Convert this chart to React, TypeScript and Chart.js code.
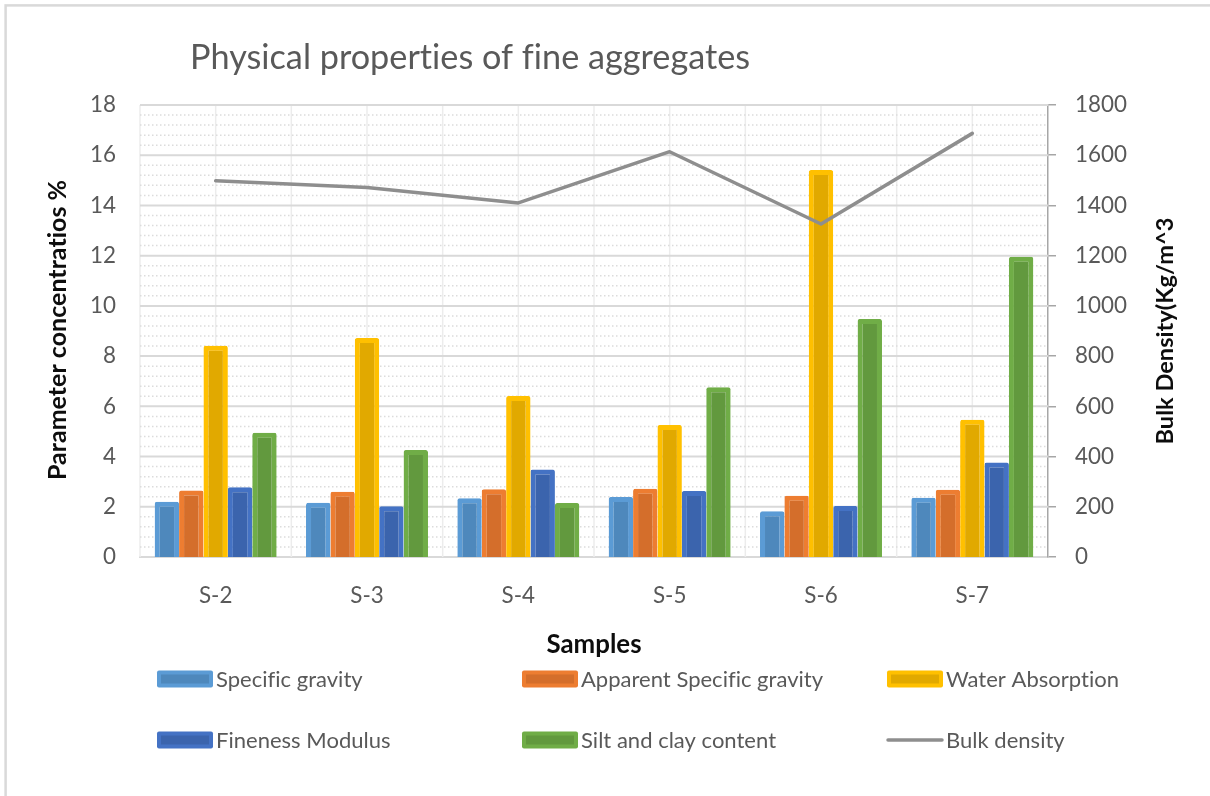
import React, { useEffect, useRef } from "react";
import { Chart, registerables } from "chart.js";

Chart.register(...registerables);

// Samples and measured properties
const samples = ["S-2", "S-3", "S-4", "S-5", "S-6", "S-7"];
const specificGravity = [2.2, 2.16, 2.34, 2.39, 1.82, 2.36];
const apparentSpecificGravity = [2.65, 2.6, 2.7, 2.72, 2.44, 2.68];
const waterAbsorption = [8.41, 8.72, 6.41, 5.26, 15.41, 5.47];
const finenessModulus = [2.78, 2.02, 3.48, 2.63, 2.03, 3.76];
const siltClayContent = [4.95, 4.26, 2.15, 6.76, 9.48, 11.96];
const bulkDensity = [1498, 1471, 1410, 1614, 1326, 1687];

// Axis ranges
const leftRange = [0, 18];
const leftStep = 2;
const leftMinorStep = 0.4;
const rightRange = [0, 1800];
const rightStep = 200;

const W = 1210;
const H = 796;
const FAMILY = "Lato, 'Open Sans', 'DejaVu Sans', sans-serif";
const TEXT_GREY = "#595959";

const barSeries = [
  { label: "Specific gravity", data: specificGravity, edge: "#5B9BD5", fill: "#4E88BC" },
  { label: "Apparent Specific gravity", data: apparentSpecificGravity, edge: "#ED7D31", fill: "#D46E2B" },
  { label: "Water Absorption", data: waterAbsorption, edge: "#FFC000", fill: "#E1A900" },
  { label: "Fineness Modulus", data: finenessModulus, edge: "#4472C4", fill: "#3B64AD" },
  { label: "Silt and clay content", data: siltClayContent, edge: "#70AD47", fill: "#62993E" },
];
const lineSeries = { label: "Bulk density", data: bulkDensity, color: "#8E8E8E" };

// font size that makes a string span the given width
function fitSize(ctx: CanvasRenderingContext2D, text: string, width: number, weight: string) {
  ctx.save();
  ctx.font = `${weight} 100px ${FAMILY}`;
  (ctx as any).letterSpacing = "0.01px";
  const w = ctx.measureText(text).width;
  ctx.restore();
  return (100 * width) / w;
}

const gridPlugin = {
  id: "sheetGrid",
  beforeDatasetsDraw(chart: any) {
    const { ctx, chartArea: a, scales } = chart;
    const x = scales.x;
    const y = scales.y;
    const n = chart.data.labels.length;
    ctx.save();
    // vertical lines at category edges and centres
    const half = (x.getPixelForValue(1) - x.getPixelForValue(0)) / 2;
    ctx.strokeStyle = "#ececec";
    ctx.lineWidth = 1.5;
    for (let i = 0; i < n; i++) {
      const c = x.getPixelForValue(i);
      for (const px of [c - half, c]) {
        ctx.beginPath();
        ctx.moveTo(px, a.top);
        ctx.lineTo(px, a.bottom);
        ctx.stroke();
      }
    }
    // dotted minor lines
    const count = Math.round((leftRange[1] - leftRange[0]) / leftMinorStep);
    const perMajor = Math.round(leftStep / leftMinorStep);
    ctx.strokeStyle = "#dcdcdc";
    ctx.lineWidth = 1.5;
    ctx.setLineDash([1.5, 2.5]);
    for (let k = 1; k < count; k++) {
      if (k % perMajor === 0) continue;
      const py = y.getPixelForValue(leftRange[0] + k * leftMinorStep);
      ctx.beginPath();
      ctx.moveTo(a.left, py);
      ctx.lineTo(a.right, py);
      ctx.stroke();
    }
    ctx.setLineDash([]);
    // major lines
    ctx.strokeStyle = "#d9d9d9";
    ctx.lineWidth = 2;
    for (let v = leftRange[0] + leftStep; v <= leftRange[1] + 1e-9; v += leftStep) {
      const py = y.getPixelForValue(v);
      ctx.beginPath();
      ctx.moveTo(a.left, py);
      ctx.lineTo(a.right, py);
      ctx.stroke();
    }
    ctx.restore();
  },
};

const decorPlugin = {
  id: "sheetDecor",
  afterDraw(chart: any) {
    const { ctx } = chart;
    ctx.save();
    (ctx as any).letterSpacing = "0.01px";
    // outer frame
    ctx.strokeStyle = "#d9d9d9";
    ctx.lineWidth = 2.5;
    ctx.strokeRect(5.6, 5.4, W + 20, H + 20);

    // chart title
    const title = "Physical properties of fine aggregates";
    const ts = fitSize(ctx, title, 560, "normal");
    ctx.font = `normal ${ts}px ${FAMILY}`;
    ctx.fillStyle = TEXT_GREY;
    ctx.textAlign = "left";
    ctx.textBaseline = "alphabetic";
    ctx.fillText(title, 190, 69);

    // axis titles
    ctx.fillStyle = "#0d0d0d";
    const xTitle = "Samples";
    const xs = fitSize(ctx, xTitle, 95, "bold");
    ctx.font = `bold ${xs}px ${FAMILY}`;
    ctx.textAlign = "center";
    ctx.fillText(xTitle, 594, 653);

    const lTitle = "Parameter concentratios %";
    const ls = fitSize(ctx, lTitle, 300, "bold");
    ctx.save();
    ctx.translate(66, 330);
    ctx.rotate(-Math.PI / 2);
    ctx.font = `bold ${ls}px ${FAMILY}`;
    ctx.fillText(lTitle, 0, 0);
    ctx.restore();

    const rTitle = "Bulk Density(Kg/m^3";
    const rs = fitSize(ctx, rTitle, 227, "bold");
    ctx.save();
    ctx.translate(1173, 331);
    ctx.rotate(-Math.PI / 2);
    ctx.font = `bold ${rs}px ${FAMILY}`;
    ctx.fillText(rTitle, 0, 0);
    ctx.restore();

    // legend, three columns by two rows
    const cols = [157, 522, 887];
    const rows = [687, 748];
    const ds = chart.data.datasets;
    const lsz = fitSize(ctx, "Apparent Specific gravity", 242, "normal");
    ctx.font = `normal ${lsz}px ${FAMILY}`;
    ctx.textAlign = "left";
    ds.forEach((d: any, i: number) => {
      const bx = cols[i % 3];
      const base = rows[Math.floor(i / 3)];
      const cy = base - 8;
      if (d.type === "line") {
        ctx.strokeStyle = d.borderColor;
        ctx.lineWidth = 3.5;
        ctx.lineCap = "round";
        ctx.beginPath();
        ctx.moveTo(bx + 1, cy);
        ctx.lineTo(bx + 55, cy);
        ctx.stroke();
      } else {
        ctx.fillStyle = d.borderColor;
        ctx.beginPath();
        ctx.roundRect(bx, cy - 8.5, 56, 17, 2);
        ctx.fill();
        ctx.fillStyle = d.backgroundColor;
        ctx.fillRect(bx + 4, cy - 4.5, 48, 9);
      }
      ctx.fillStyle = TEXT_GREY;
      ctx.fillText(d.label, bx + 59, base);
    });
    ctx.restore();
  },
};

export default function App() {
  const ref = useRef<HTMLCanvasElement>(null);

  useEffect(() => {
    const canvas = ref.current!;
    const ctx = canvas.getContext("2d")!;
    const tickSize = fitSize(ctx, "1800", 52, "normal");
    const tickFont = { family: FAMILY, size: tickSize };
    const plain = (v: any) => String(v);

    const chart = new Chart(canvas, {
      type: "bar",
      data: {
        labels: samples,
        datasets: [
          ...barSeries.map((s) => ({
            type: "bar" as const,
            label: s.label,
            data: s.data,
            backgroundColor: s.fill,
            borderColor: s.edge,
            borderWidth: 5,
            borderSkipped: "start" as const,
            borderRadius: 2,
            yAxisID: "y",
            order: 1,
            categoryPercentage: 0.806,
            barPercentage: 1,
          })),
          {
            type: "line" as const,
            label: lineSeries.label,
            data: lineSeries.data,
            borderColor: lineSeries.color,
            backgroundColor: lineSeries.color,
            borderWidth: 3.5,
            pointRadius: 0,
            tension: 0,
            borderJoinStyle: "round" as const,
            borderCapStyle: "round" as const,
            yAxisID: "y1",
            order: 0,
          },
        ],
      } as any,
      options: {
        responsive: false,
        animation: false,
        devicePixelRatio: 1,
        layout: { padding: { top: 105, left: 0, right: 0, bottom: 0 } },
        plugins: {
          legend: { display: false },
          tooltip: { enabled: false },
          title: { display: false },
        },
        scales: {
          x: {
            type: "category",
            offset: true,
            grid: { display: false, drawTicks: false },
            border: { display: true, color: "#d9d9d9", width: 2 },
            ticks: { font: tickFont, color: TEXT_GREY, padding: 25, maxRotation: 0 },
            afterFit: (s: any) => {
              s.height = 239;
            },
          },
          y: {
            position: "left",
            min: leftRange[0],
            max: leftRange[1],
            grid: { display: false, drawTicks: false },
            border: { display: false },
            ticks: { stepSize: leftStep, font: tickFont, color: TEXT_GREY, padding: 24, callback: plain },
            afterFit: (s: any) => {
              s.width = 140;
            },
          },
          y1: {
            position: "right",
            min: rightRange[0],
            max: rightRange[1],
            grid: {
              display: true,
              drawOnChartArea: false,
              drawTicks: true,
              tickLength: 8,
              color: "#a6a6a6",
              lineWidth: 1.5,
            },
            border: { display: true, color: "#a6a6a6", width: 1.5 },
            ticks: { stepSize: rightStep, font: tickFont, color: TEXT_GREY, padding: 19, callback: plain },
            afterFit: (s: any) => {
              s.width = W - 1048;
            },
          },
        },
      } as any,
      plugins: [gridPlugin, decorPlugin],
    });

    return () => chart.destroy();
  }, []);

  return (
    <div style={{ position: "fixed", left: 0, top: 0, width: W, height: H, background: "#fff" }}>
      <canvas ref={ref} width={W} height={H} style={{ display: "block", width: W, height: H }} />
    </div>
  );
}
